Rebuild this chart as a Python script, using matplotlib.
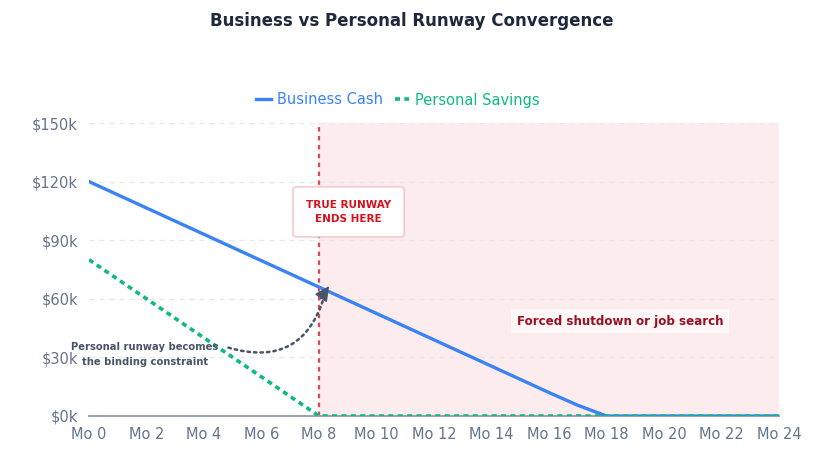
import matplotlib.pyplot as plt

# data
months = list(range(25))
month_labels = ['Mo %d' % m for m in months]
business_cash = [120, 113.25, 106.5, 99.75, 93, 86.25, 79.5, 72.75, 66, 59.25, 52.5, 45.75,
                 39, 32.25, 25.5, 18.75, 12, 5.5, 0, 0, 0, 0, 0, 0, 0]
personal_savings = [80, 70, 60, 50, 40, 30, 20, 10, 0, 0, 0, 0, 0, 0, 0, 0, 0,
                    0, 0, 0, 0, 0, 0, 0, 0]
runway_end = 8
y_ticks = [0, 30, 60, 90, 120, 150]

blue = '#3b82f6'
green = '#10b981'
tick_col = '#64748b'
slate = '#475569'

fig = plt.figure(figsize=(8.23, 4.61), dpi=100)
ax = fig.add_axes([89/823, 1-416/461, 690/823, 293/461])

ax.axvspan(runway_end, months[-1], color='#fdecee', zorder=0)
ax.axvline(runway_end, color='#e0474c', ls=(0, (2, 2)), lw=1.6, zorder=2)

ax.plot(months, business_cash, color=blue, lw=2.4, label='Business Cash', zorder=3)
ax.plot(months, personal_savings, color=green, lw=2.6, ls=(0, (1.4, 1.2)), label='Personal Savings', zorder=4)

ax.set_xlim(0, 24)
ax.set_ylim(0, 150)
ax.set_xticks(months[::2])
ax.set_xticklabels(month_labels[::2])
ax.set_yticks(y_ticks)
ax.set_yticklabels(['$%dk' % v for v in y_ticks])
ax.tick_params(length=0, labelsize=10.5, colors=tick_col, pad=8)
ax.grid(axis='y', color='#e5e7eb', ls=(0, (4, 4)), lw=0.9)
ax.set_axisbelow(True)
for s in ['top', 'right', 'left']:
    ax.spines[s].set_visible(False)
ax.spines['bottom'].set_color('#9ca3af')
ax.spines['bottom'].set_linewidth(1.5)

fig.text(0.5, 1-21/461, 'Business vs Personal Runway Convergence', ha='center', va='center',
         fontsize=12, fontweight='bold', color='#1e293b')

leg = fig.legend(loc='center', bbox_to_anchor=(398/823, 1-100/461), ncol=2, frameon=False,
                 fontsize=10.5, handlelength=1.0, handletextpad=0.4, columnspacing=0.8)
for t, c in zip(leg.get_texts(), [blue, green]):
    t.set_color(c)

ax.text(9.03, 104.5, 'TRUE RUNWAY\nENDS HERE', ha='center', va='center', fontsize=7.5,
        fontweight='bold', color='#d90f1a', linespacing=1.5, zorder=6,
        bbox=dict(boxstyle='round,pad=1.25,rounding_size=0.3', fc='white', ec='#f4c0c4', lw=1))

ax.text(18.47, 48.6, 'Forced shutdown or job search', ha='center', va='center', fontsize=8.6,
        fontweight='bold', color='#9b1020', zorder=6,
        bbox=dict(boxstyle='square,pad=0.45', fc='#fff7f8', ec='none'))

ax.text(1.95, 31.5, 'Personal runway becomes\nthe binding constraint', ha='center', va='center',
        fontsize=7.2, fontweight='bold', color=slate, linespacing=1.55, zorder=6)

# dotted curved connector, then a solid head at its end
ax.annotate('', xy=(8.2, 62), xytext=(4.85, 35),
            arrowprops=dict(arrowstyle='-', color=slate, lw=1.8, ls=(0, (1, 1.6)),
                            connectionstyle='arc3,rad=0.5', shrinkA=0, shrinkB=0), zorder=7)
ax.annotate('', xy=(8.35, 66.5), xytext=(8.05, 60),
            arrowprops=dict(arrowstyle='-|>,head_length=0.9,head_width=0.45', color=slate,
                            lw=1, shrinkA=0, shrinkB=0), zorder=7)

fig.savefig('out.png', dpi=100)
